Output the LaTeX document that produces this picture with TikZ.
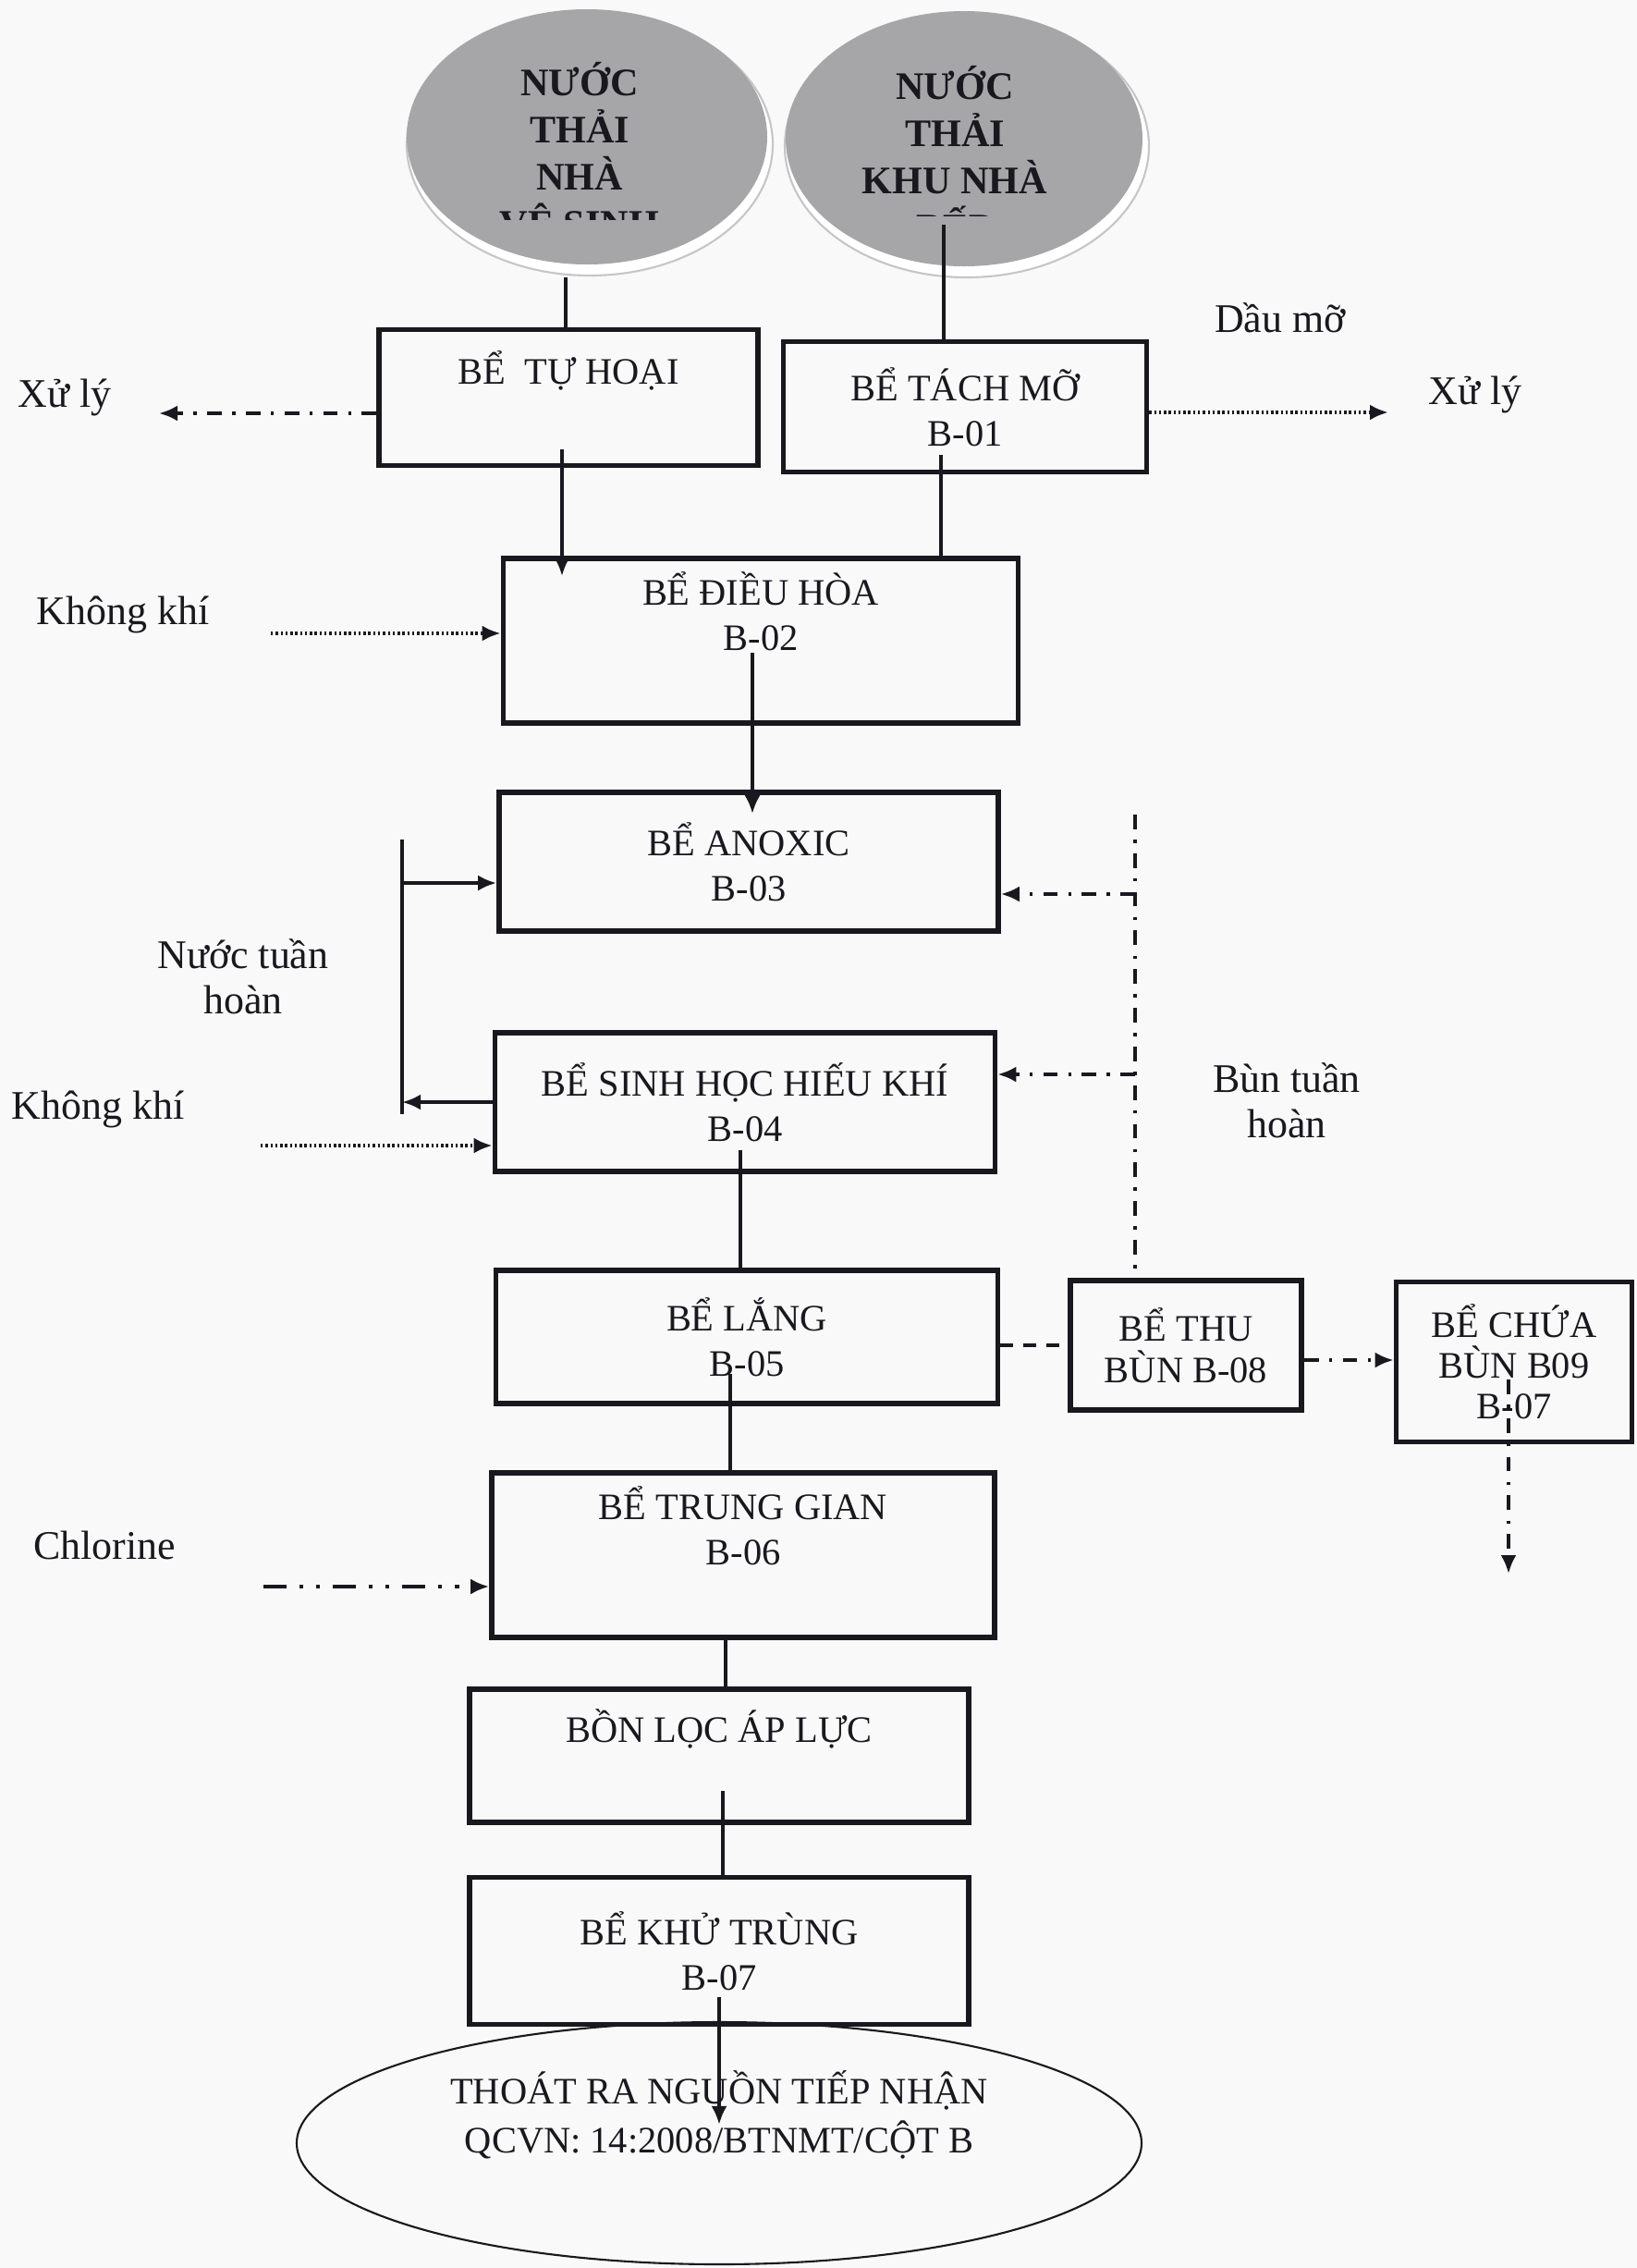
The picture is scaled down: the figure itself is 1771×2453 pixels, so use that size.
\documentclass[tikz,border=0pt]{standalone}
\usepackage{fontspec}
\setmainfont{Liberation Serif}
\usetikzlibrary{arrows.meta, positioning, shapes.geometric, calc}

\definecolor{ink}{RGB}{24,24,30}
\definecolor{srcgray}{RGB}{166,166,169}
\definecolor{paper}{RGB}{249,249,250}

\newcommand{\tankfont}{\fontsize{11.5}{14}\selectfont}
\newcommand{\srcfont}{\fontsize{12}{14.5}\selectfont\bfseries}
\newcommand{\lblfont}{\fontsize{12.5}{14}\selectfont}

\begin{document}
\begin{tikzpicture}[
  x=0.1mm, y=-0.1mm,
  tank/.style={draw=ink, line width=1.6pt, align=center, inner sep=0pt,
               text=ink, font=\tankfont},
  rim/.style={ellipse, fill=white, draw=gray!45, line width=0.6pt, inner sep=0pt},
  src/.style={ellipse, fill=srcgray, inner sep=0pt},
  lbl/.style={align=center, inner sep=0pt, text=ink, font=\lblfont},
  pipe/.style={draw=ink, line width=1.1pt},
  tip/.style={-{Latex[length=2mm, width=1.7mm]}},
  mixline/.style={pipe, dash pattern=on 4.5pt off 3.2pt on 1pt off 3.2pt},
  dotline/.style={pipe, line width=1.3pt, dash pattern=on 0.7pt off 0.8pt},
  dashline/.style={pipe, dash pattern=on 4pt off 3pt},
  clline/.style={pipe, line width=1.4pt, dash pattern=on 7pt off 4pt on 1.2pt off 4pt on 1.2pt off 4pt}
]
  \useasboundingbox (0,0) rectangle (1771,2453);
  \fill[paper] (0,0) rectangle (1771,2453);

  % nguon nuoc thai
  \node[rim, minimum width=39.6mm, minimum height=28.4mm] (vsrim) at (638,156) {};
  \node[src, minimum width=39mm, minimum height=27.6mm] (vs) at (635,148) {};
  \node[rim, minimum width=39.4mm, minimum height=28.4mm] (beprim) at (1046,158) {};
  \node[src, minimum width=38.6mm, minimum height=27.6mm] (bep) at (1043,150) {};
  \begin{scope}
    \clip (430,0) rectangle (840,237);
    \node[lbl, font=\srcfont] (vstxt) at (627,166) {NƯỚC\\THẢI\\NHÀ\\VỆ SINH};
  \end{scope}
  \begin{scope}
    \clip (850,0) rectangle (1240,233);
    \node[lbl, font=\srcfont] (beptxt) at (1033,166) {NƯỚC\\THẢI\\KHU NHÀ\\BẾP};
  \end{scope}

  % cac be
  \node[tank, minimum width=41mm, minimum height=14.7mm] (tuhoai) at (615,430) {BỂ\ \ TỰ HOẠI\\\strut};
  \node[tank, minimum width=39.3mm, minimum height=14.1mm] (tachmo) at (1044,440) {BỂ TÁCH MỠ\\B-01};
  \node[tank, minimum width=55.7mm, minimum height=17.8mm] (dieuhoa) at (823,693) {BỂ ĐIỀU HÒA\\B-02\\\strut};
  \node[tank, minimum width=54mm, minimum height=15mm] (anoxic) at (810,932) {BỂ ANOXIC\\B-03};
  \node[tank, minimum width=54.1mm, minimum height=15mm] (hieukhi) at (806,1192) {BỂ SINH HỌC HIẾU KHÍ\\B-04};
  \node[tank, minimum width=54.3mm, minimum height=14.4mm] (lang) at (808,1446) {BỂ LẮNG\\B-05};
  \node[tank, minimum width=25mm, minimum height=14mm, font=\fontsize{11.5}{12.8}\selectfont] (thubun) at (1283,1455) {BỂ THU\\BÙN B-08};
  \node[tank, minimum width=25.5mm, minimum height=17.3mm, font=\fontsize{11.5}{12.5}\selectfont] (chuabun) at (1638,1473) {BỂ CHỨA\\BÙN B09\\B-07};
  \node[tank, minimum width=54.4mm, minimum height=17.8mm] (trunggian) at (804,1682) {BỂ TRUNG GIAN\\B-06\\\strut};
  \node[tank, minimum width=54mm, minimum height=14.4mm] (bonloc) at (778,1899) {BỒN LỌC ÁP LỰC\\\strut};
  \node[tank, minimum width=54mm, minimum height=15.9mm] (khutrung) at (778,2110) {BỂ KHỬ TRÙNG\\B-07};
  \node[tank, ellipse, line width=0.6pt, minimum width=91.4mm, minimum height=26.2mm,
        font=\fontsize{11.5}{15}\selectfont] (outlet) at (778,2318)
        {THOÁT RA NGUỒN TIẾP NHẬN\\QCVN: 14:2008/BTNMT/CỘT B\\\strut};

  % dong chinh
  \coordinate (vsout) at (612,300);
  \draw[pipe] (vsout) -- (vsout |- tuhoai.north);
  \coordinate (bepout) at (1021,243);
  \draw[pipe] (bepout) -- (bepout |- tachmo.north);
  \coordinate (thout) at (608,486);
  \draw[pipe, tip, shorten >=-2.2mm] (thout) -- (thout |- dieuhoa.north);
  \coordinate (tmout) at (1018,492);
  \draw[pipe] (tmout) -- (tmout |- dieuhoa.north);
  \coordinate (dhout) at (814,706);
  \draw[pipe, tip, shorten >=-2.6mm] (dhout) -- (dhout |- anoxic.north);

  % nuoc tuan hoan
  \coordinate (rctop) at (435,908);
  \coordinate (rcbot) at (435,1205);
  \coordinate (rcin) at (435,955);
  \draw[pipe] (rctop) -- (rcbot);
  \draw[pipe, tip] (rcin) -- (rcin -| anoxic.west);
  \draw[pipe, tip] (hieukhi.west) -- (hieukhi.west -| rctop);
  \node[lbl] (rclbl) at (263,1056) {Nước tuần\\hoàn};

  \coordinate (hkout) at (801,1244);
  \draw[pipe] (hkout) -- (hkout |- lang.north);
  \coordinate (lgout) at (790,1486);
  \draw[pipe] (lgout) -- (lgout |- trunggian.north);
  \coordinate (tgout) at (785,1771);
  \draw[pipe] (tgout) -- (tgout |- bonloc.north);
  \coordinate (blout) at (782,1937);
  \draw[pipe] (blout) -- (blout |- khutrung.north);
  \coordinate (ktout) at (778,2160);
  \draw[pipe, tip, shorten >=-11.2mm] (ktout) -- (ktout |- outlet.north);

  % dong phu
  \node[lbl] (xlyL) at (70,430) {Xử lý};
  \coordinate (xlyLtip) at (172,447);
  \draw[mixline, tip] (xlyLtip -| tuhoai.west) -- (xlyLtip);
  \node[lbl] (daumo) at (1385,344) {Dầu mỡ};
  \node[lbl] (xlyR) at (1596,427) {Xử lý};
  \coordinate (xlyRtip) at (1502,446);
  \draw[dotline, tip] (xlyRtip -| tachmo.east) -- (xlyRtip);

  \node[lbl] (air1) at (133,665) {Không khí};
  \coordinate (air1in) at (293,685);
  \draw[dotline, tip] (air1in) -- (air1in -| dieuhoa.west);
  \node[lbl] (air2) at (106,1200) {Không khí};
  \coordinate (air2in) at (282,1239);
  \draw[dotline, tip] (air2in) -- (air2in -| hieukhi.west);
  \node[lbl] (cl) at (113,1671) {Chlorine};
  \coordinate (clin) at (285,1716);
  \draw[clline, tip] (clin) -- (clin -| trunggian.west);

  % bun
  \node[lbl] (btlbl) at (1392,1190) {Bùn tuần\\hoàn};
  \coordinate (bttop) at (1228,881);
  \draw[mixline] (bttop) -- (bttop |- thubun.north);
  \coordinate (bt1) at (1228,967);
  \draw[mixline, tip] (bt1) -- (bt1 -| anoxic.east);
  \coordinate (bt2) at (1228,1162);
  \draw[mixline, tip] (bt2) -- (bt2 -| hieukhi.east);
  \draw[dashline] (thubun.west -| lang.east) -- (thubun.west);
  \coordinate (tbout) at (1408,1471);
  \draw[mixline, tip] (tbout -| thubun.east) -- (tbout -| chuabun.west);
  \coordinate (cbout) at (1632,1492);
  \coordinate (cbtip) at (1632,1702);
  \draw[mixline, tip] (cbout) -- (cbtip);
\end{tikzpicture}
\end{document}
